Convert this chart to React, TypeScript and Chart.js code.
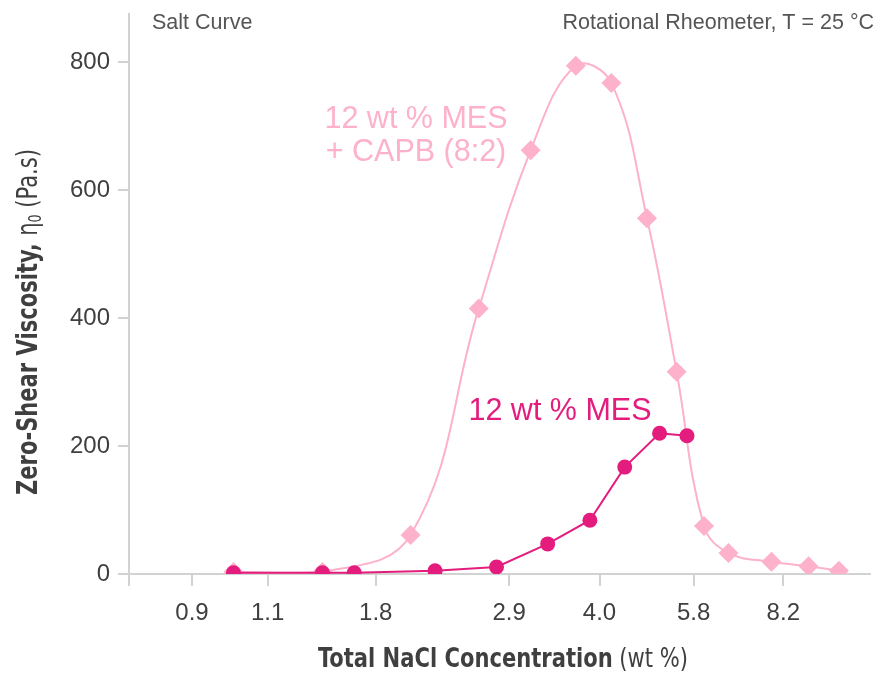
import React, { useEffect, useRef } from 'react';
import { Chart, registerables } from 'chart.js';

Chart.register(...registerables);

// Hidden salt-axis positions (0–100) and the NaCl labels printed at them
const tickPositions = [8.5, 18.7, 33.3, 51.3, 63.5, 76.2, 88.3];
const tickLabels = ['0.9', '1.1', '1.8', '2.9', '4.0', '5.8', '8.2'];

// 12 wt % MES
const mesX = [14.1, 26.1, 30.4, 41.3, 49.6, 56.5, 62.2, 66.9, 71.6, 75.3];
const mesY = [2, 2, 2, 5, 11, 47, 84, 167, 220, 216];

// 12 wt % MES + CAPB (8:2)
const capbX = [14.1, 26.1, 38.0, 47.2, 54.2, 60.3, 65.1, 69.9, 73.9, 77.6, 80.9, 86.7, 91.7, 95.8];
const capbY = [3, 3, 61, 415, 662, 794, 767, 556, 316, 75, 33, 19, 12, 5];

const yTicks = [0, 200, 400, 600, 800];

const PINK = '#FDB1CB';
const MAGENTA = '#E31C7D';
const AXIS = '#D2D2D2';
const TEXT = '#3f3f3f';
const FONT = '"Liberation Sans", Arial, sans-serif';
const NARROW = '"Liberation Sans Narrow", "DejaVu Sans Condensed", "Liberation Sans", sans-serif';

function drawRuns(ctx: CanvasRenderingContext2D, runs: { t: string; f: string; dy?: number }[], cx: number, cy: number, target: number) {
  let total = 0;
  const widths = runs.map((r) => {
    ctx.font = r.f;
    const w = ctx.measureText(r.t).width;
    total += w;
    return w;
  });
  const k = target / total;
  ctx.save();
  ctx.translate(cx, cy);
  ctx.scale(k, 1);
  let x = -total / 2;
  runs.forEach((r, i) => {
    ctx.font = r.f;
    ctx.fillText(r.t, x, r.dy || 0);
    x += widths[i];
  });
  ctx.restore();
}

const annotations = {
  id: 'annotations',
  afterDraw(chart: any) {
    const ctx = chart.ctx as CanvasRenderingContext2D;
    ctx.save();
    ctx.textBaseline = 'middle';

    // corner notes
    ctx.fillStyle = '#555';
    ctx.font = `21.5px ${FONT}`;
    ctx.textAlign = 'left';
    ctx.fillText('Salt Curve', 152, 23);
    ctx.textAlign = 'right';
    ctx.fillText('Rotational Rheometer, T = 25 \u00B0C', 874, 23);

    // series labels
    ctx.textAlign = 'center';
    ctx.font = `30.5px ${FONT}`;
    ctx.fillStyle = PINK;
    ctx.fillText('12 wt % MES', 416, 120);
    ctx.fillText('+ CAPB (8:2)', 416, 153);
    ctx.fillStyle = MAGENTA;
    ctx.fillText('12 wt % MES', 560, 412);

    // x title
    ctx.fillStyle = TEXT;
    ctx.textAlign = 'left';
    drawRuns(
      ctx,
      [
        { t: 'Total NaCl Concentration', f: `bold 27px ${NARROW}` },
        { t: ' (wt %)', f: `27px ${NARROW}` },
      ],
      503,
      660,
      370
    );

    // y title (rotated)
    ctx.save();
    ctx.translate(30, 322);
    ctx.rotate(-Math.PI / 2);
    drawRuns(
      ctx,
      [
        { t: 'Zero-Shear Viscosity, ', f: `bold 28px ${NARROW}` },
        { t: '\u03B7', f: `28px ${NARROW}` },
        { t: '0', f: `17px ${NARROW}`, dy: 7 },
        { t: ' (Pa.s)', f: `28px ${NARROW}` },
      ],
      0,
      0,
      346
    );
    ctx.restore();
    ctx.restore();
  },
};

export default function App() {
  const ref = useRef<HTMLCanvasElement | null>(null);

  useEffect(() => {
    if (!ref.current) return;
    const chart = new Chart(ref.current, {
      type: 'line',
      data: {
        datasets: [
          {
            label: '12 wt % MES',
            data: mesX.map((x, i) => ({ x, y: mesY[i] })),
            borderColor: MAGENTA,
            backgroundColor: MAGENTA,
            borderWidth: 2,
            pointStyle: 'circle',
            pointRadius: 7.5,
            pointBorderWidth: 0,
            tension: 0,
          },
          {
            label: '12 wt % MES + CAPB (8:2)',
            data: capbX.map((x, i) => ({ x, y: capbY[i] })),
            borderColor: PINK,
            backgroundColor: PINK,
            borderWidth: 2,
            pointStyle: 'rectRot',
            pointRadius: 10,
            pointBorderWidth: 0,
            tension: 0.4,
          },
        ],
      },
      options: {
        animation: false,
        responsive: false,
        layout: { padding: { top: 14, right: 4, left: 0, bottom: 0 } },
        plugins: {
          legend: { display: false },
          tooltip: { enabled: false },
        },
        scales: {
          x: {
            type: 'linear',
            min: 0,
            max: 100,
            afterBuildTicks: (scale: any) => {
              scale.ticks = [0, ...tickPositions].map((v) => ({ value: v }));
            },
            afterFit: (scale: any) => {
              scale.height = 101;
              scale.paddingLeft = 0;
              scale.paddingRight = 0;
            },
            ticks: {
              autoSkip: false,
              maxRotation: 0,
              padding: 13,
              color: TEXT,
              font: { family: FONT, size: 24 },
              callback: (v: any) => {
                const i = tickPositions.indexOf(Number(v));
                return i >= 0 ? tickLabels[i] : '';
              },
            },
            grid: {
              drawOnChartArea: false,
              drawTicks: true,
              tickLength: 12,
              color: AXIS,
              lineWidth: 2,
            },
            border: { display: true, color: AXIS, width: 2 },
          },
          y: {
            type: 'linear',
            min: 0,
            max: 875,
            afterBuildTicks: (scale: any) => {
              scale.ticks = yTicks.map((v) => ({ value: v }));
            },
            afterFit: (scale: any) => {
              scale.width = 129;
              scale.paddingTop = 0;
              scale.paddingBottom = 0;
            },
            ticks: {
              padding: 8,
              color: TEXT,
              font: { family: FONT, size: 24 },
            },
            grid: {
              drawOnChartArea: false,
              drawTicks: true,
              tickLength: 11,
              color: AXIS,
              lineWidth: 2,
            },
            border: { display: true, color: AXIS, width: 2 },
          },
        },
      },
      plugins: [annotations],
    });
    return () => chart.destroy();
  }, []);

  return (
    <div style={{ position: 'absolute', left: 0, top: 0, width: 880, height: 675, background: '#fff' }}>
      <canvas ref={ref} width={880} height={675} />
    </div>
  );
}
